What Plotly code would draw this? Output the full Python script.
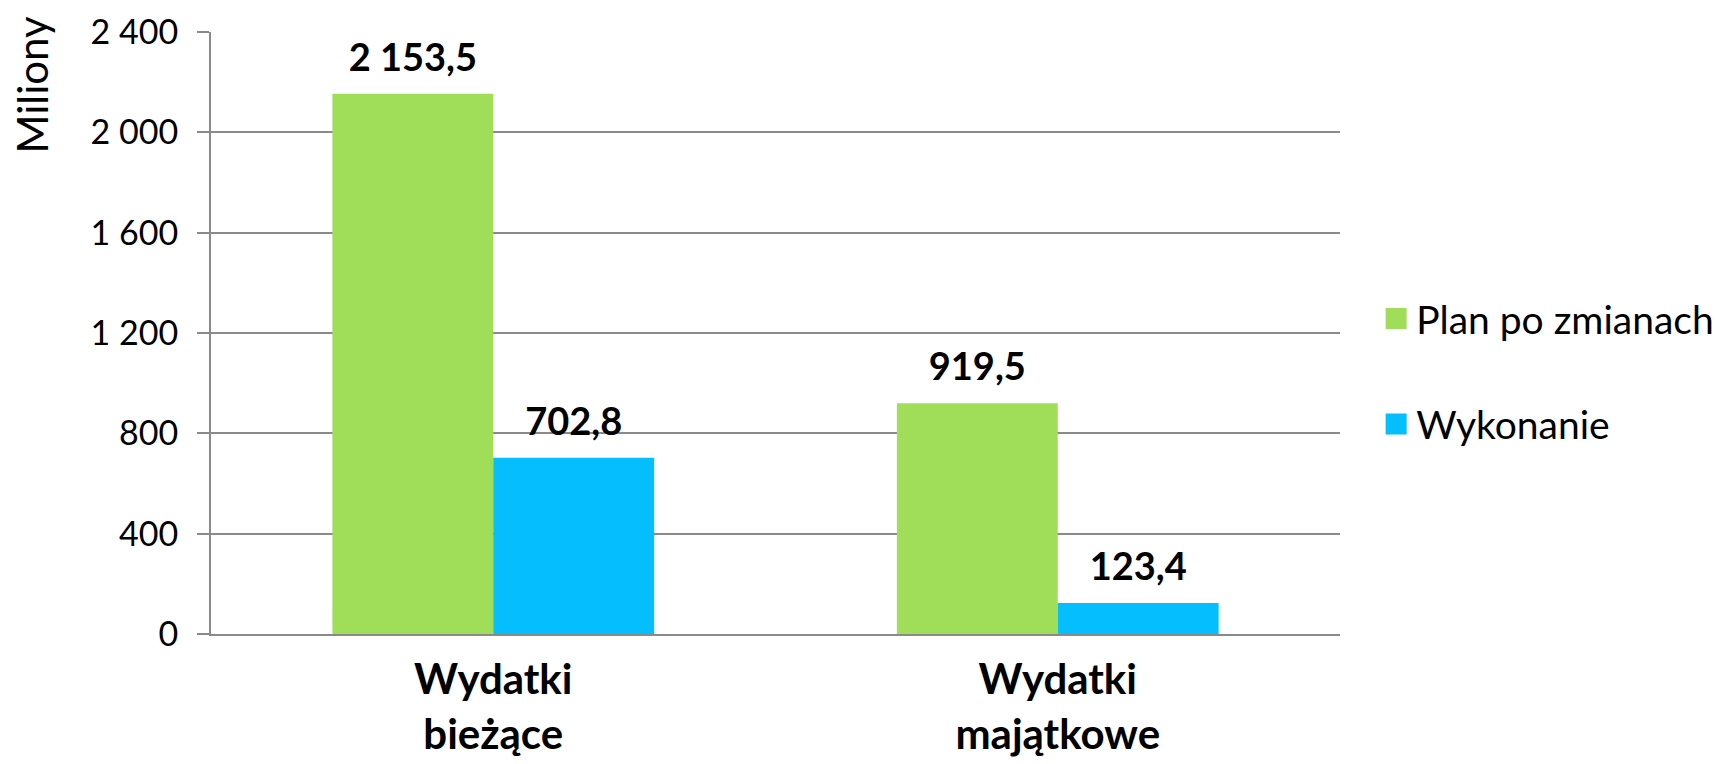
import plotly.graph_objects as go

categories = ["Wydatki<br>bieżące", "Wydatki<br>majątkowe"]
plan = [2153.5, 919.5]
wykonanie = [702.8, 123.4]
series_names = ["Plan po zmianach", "Wykonanie"]
colors = ["#A0DE59", "#05BEFE"]
y_ticks = [0, 400, 800, 1200, 1600, 2000, 2400]

FONT = "Lato"
GRID = "#8a8a8a"

fig = go.Figure()

for name, vals, col in zip(series_names, [plan, wykonanie], colors):
    fig.add_trace(go.Bar(
        x=categories, y=vals, name=name, showlegend=False,
        marker=dict(color=col, line=dict(width=0)),
        offsetgroup=name, alignmentgroup="a",
    ))

# labels above bars, pushed up by an invisible marker
for name, vals in zip(series_names, [plan, wykonanie]):
    fig.add_trace(go.Scatter(
        x=categories, y=vals, mode="markers+text",
        text=[f"{v:,.1f}".replace(",", " ").replace(".", ",") for v in vals],
        textposition="top center",
        textfont=dict(family=FONT, size=38, color="black", weight="bold"),
        marker=dict(size=20, opacity=0),
        showlegend=False, hoverinfo="skip",
        offsetgroup=name, alignmentgroup="a",
    ))

# legend entries with bigger squares
for name, col in zip(series_names, colors):
    fig.add_trace(go.Scatter(
        x=[None], y=[None], mode="markers", name=name, legendgroup=name,
        marker=dict(symbol="square", size=16, color=col,
                    line=dict(color=col, width=5)),
    ))

fig.update_layout(
    width=1723, height=756,
    margin=dict(l=203, r=389, t=24, b=130),
    paper_bgcolor="white", plot_bgcolor="white",
    barmode="group", bargap=0.43, bargroupgap=0,
    scattermode="group", scattergap=0.43,
    font=dict(family=FONT, color="black"),
    legend=dict(
        x=1.032, y=0.436, xanchor="left", yanchor="middle",
        font=dict(family=FONT, size=39), tracegroupgap=52,
        traceorder="grouped", itemsizing="trace",
    ),
    xaxis=dict(
        automargin=False,
        showline=True, linecolor=GRID, linewidth=2,
        showgrid=False, ticks="",
        tickfont=dict(family=FONT, size=42, weight="bold"),
        ticklabelstandoff=8,
    ),
    yaxis=dict(
        automargin=False, ticklabeloverflow="allow",
        range=[0, 2400], tickvals=y_ticks,
        ticktext=[f"{v:,}".replace(",", " ") for v in y_ticks],
        showgrid=True, gridcolor=GRID, gridwidth=1.5,
        showline=True, linecolor=GRID, linewidth=2,
        ticks="outside", ticklen=12, tickcolor=GRID, tickwidth=1.5,
        tickfont=dict(family=FONT, size=34),
        ticklabelstandoff=12, zeroline=False,
    ),
    annotations=[dict(
        text="Miliony", xref="paper", yref="paper", x=-0.159, y=0.912,
        xanchor="center", yanchor="middle", textangle=-90, showarrow=False,
        font=dict(family=FONT, size=42),
    )],
    shapes=[dict(
        type="line", xref="paper", yref="y", ysizemode="pixel", yanchor=0,
        x0=0, x1=0, y0=0, y1=-16, line=dict(color=GRID, width=2),
    )],
)

fig.write_html("out.html")
